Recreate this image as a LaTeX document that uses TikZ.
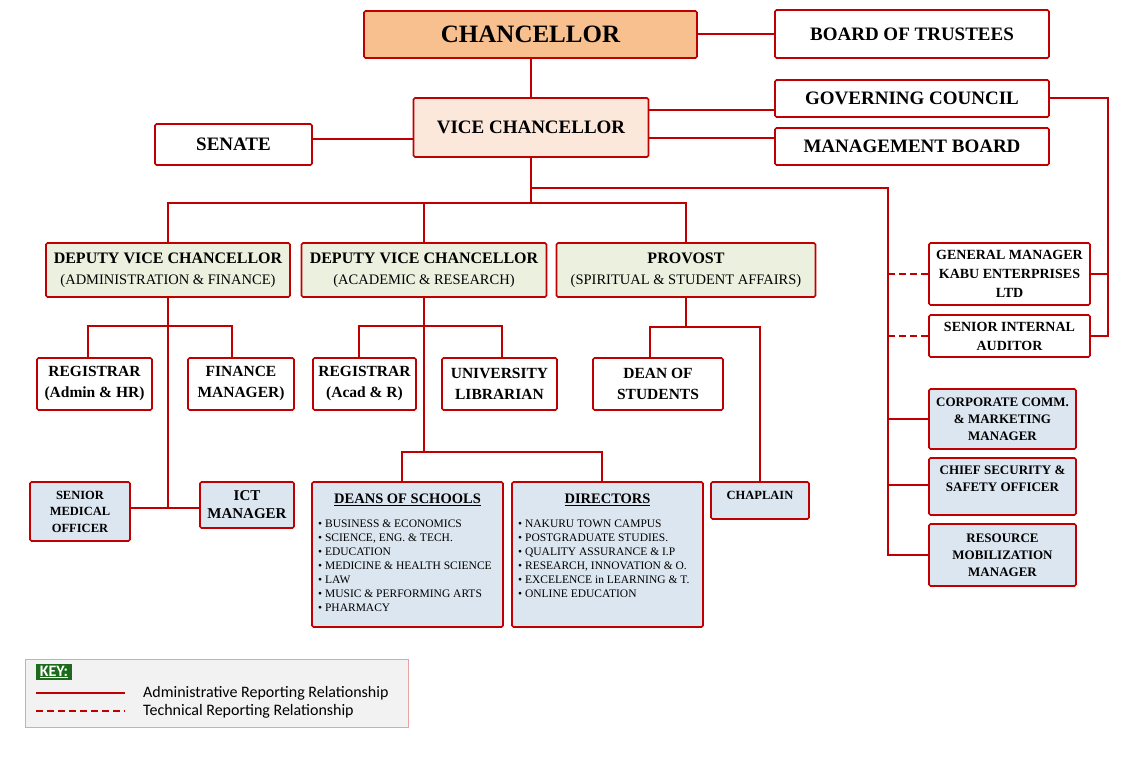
\documentclass[tikz,border=0pt]{standalone}
\usepackage{fontspec}
\setmainfont{Liberation Serif}
\newfontfamily\keyfont{Carlito}
\usetikzlibrary{positioning}
\definecolor{orgred}{HTML}{C00000}
\definecolor{chanfill}{HTML}{F8C08F}
\definecolor{vcfill}{HTML}{FCE8DA}
\definecolor{dvcfill}{HTML}{EBF1DE}
\definecolor{unitfill}{HTML}{DCE6F1}
\definecolor{keyfill}{HTML}{F2F2F2}
\definecolor{keyline}{HTML}{E6A3A3}
\definecolor{keygreen}{HTML}{1B6B1B}
\newcommand{\fsz}[2]{\fontsize{#1}{#2}\selectfont}
\tikzset{
  orgbox/.style={draw=orgred, line width=1.6pt, rounded corners=1.5pt, align=center, inner sep=1pt, fill=white},
  unitbox/.style={orgbox, fill=unitfill},
  link/.style={draw=orgred, line width=2pt},
  techlink/.style={link, dash pattern=on 7pt off 4pt},
}
\begin{document}
\begin{tikzpicture}[x=1pt,y=-1pt]
\useasboundingbox (0,0) rectangle (1140,778);

% top level
\node[orgbox, fill=chanfill, minimum width=333, minimum height=47, font=\bfseries\fsz{25}{30}] (chan) at (530.5,34.5) {CHANCELLOR};
\node[orgbox, minimum width=274, minimum height=48, font=\bfseries\fsz{19}{22}] (bot) at (912,34) {BOARD OF TRUSTEES};
\node[orgbox, minimum width=274, minimum height=37, font=\bfseries\fsz{19}{22}] (gc) at (912,98.5) {GOVERNING COUNCIL};
\node[orgbox, minimum width=274, minimum height=37, font=\bfseries\fsz{19}{22}] (mb) at (912,146.5) {MANAGEMENT BOARD};
\node[orgbox, fill=vcfill, minimum width=235, minimum height=59, font=\bfseries\fsz{19}{22}] (vc) at (531,127.5) {VICE CHANCELLOR};
\node[orgbox, minimum width=157, minimum height=41, font=\bfseries\fsz{19}{22}] (senate) at (233.5,144.5) {SENATE};

% deputies
\node[orgbox, fill=dvcfill, minimum width=244, minimum height=54, font=\fsz{14.5}{21}] (dvca) at (168,270) {{\bfseries\fsz{16}{21}DEPUTY VICE CHANCELLOR}\\(ADMINISTRATION \& FINANCE)};
\node[orgbox, fill=dvcfill, minimum width=245, minimum height=54, font=\fsz{14.5}{21}] (dvcb) at (424,270) {{\bfseries\fsz{16}{21}DEPUTY VICE CHANCELLOR}\\(ACADEMIC \& RESEARCH)};
\node[orgbox, fill=dvcfill, minimum width=259, minimum height=54, font=\fsz{14.5}{21}] (prov) at (686,270) {{\bfseries\fsz{16}{21}PROVOST}\\(SPIRITUAL \& STUDENT AFFAIRS)};

% second row
\node[orgbox, minimum width=115, minimum height=52, font=\bfseries\fsz{15.5}{21}] (rega) at (94.5,384) {REGISTRAR\\(Admin \& HR)};
\node[orgbox, minimum width=106, minimum height=52, font=\bfseries\fsz{15.5}{21}] (fin) at (241,384) {FINANCE\\MANAGER)};
\node[orgbox, minimum width=103, minimum height=52, font=\bfseries\fsz{15.5}{21}] (regb) at (364.5,384) {REGISTRAR\\(Acad \& R)};
\node[orgbox, minimum width=115, minimum height=52, font=\bfseries\fsz{15.5}{21}] (lib) at (499.5,384) {UNIVERSITY\\LIBRARIAN};
\node[orgbox, minimum width=130, minimum height=52, font=\bfseries\fsz{15.5}{21}] (dos) at (658,384) {DEAN OF\\STUDENTS};

% third row
\node[unitbox, minimum width=100, minimum height=59, font=\bfseries\fsz{12.5}{16.5}] (smo) at (80,511.5) {SENIOR\\MEDICAL\\OFFICER};
\node[unitbox, minimum width=94, minimum height=46, font=\bfseries\fsz{15}{18}] (ict) at (247,505) {ICT\\MANAGER};
\node[unitbox, minimum width=191, minimum height=145] (deans) at (407.5,554.5) {};
\node[font=\bfseries\fsz{14.5}{17}] (deanst) at (407.5,500) {\underline{DEANS OF SCHOOLS}};
\node[anchor=north west, align=left, inner sep=0pt, font=\fsz{11.5}{14}] (deansl) at (318,520) {\textbullet~BUSINESS \& ECONOMICS\\\textbullet~SCIENCE, ENG. \& TECH.\\\textbullet~EDUCATION\\\textbullet~MEDICINE \& HEALTH SCIENCE\\\textbullet~LAW\\\textbullet~MUSIC \& PERFORMING ARTS\\\textbullet~PHARMACY};
\node[unitbox, minimum width=191, minimum height=145] (dirs) at (607.5,554.5) {};
\node[font=\bfseries\fsz{14.5}{17}] (dirst) at (607.5,500) {\underline{DIRECTORS}};
\node[anchor=north west, align=left, inner sep=0pt, font=\fsz{11.5}{14}] (dirsl) at (518,520) {\textbullet~NAKURU TOWN CAMPUS\\\textbullet~POSTGRADUATE STUDIES.\\\textbullet~QUALITY ASSURANCE \& I.P\\\textbullet~RESEARCH, INNOVATION \& O.\\\textbullet~EXCELENCE in LEARNING \& T.\\\textbullet~ONLINE EDUCATION};
\node[unitbox, minimum width=98, minimum height=37, text depth=11pt, font=\bfseries\fsz{12.5}{15}] (chap) at (760,500.5) {CHAPLAIN};

% right column
\node[orgbox, minimum width=161, minimum height=62, font=\bfseries\fsz{14}{19}] (gm) at (1009.5,274) {GENERAL MANAGER\\KABU ENTERPRISES\\LTD};
\node[orgbox, minimum width=161, minimum height=42, font=\bfseries\fsz{14}{19}] (sia) at (1009.5,336) {SENIOR INTERNAL\\AUDITOR};
\node[unitbox, minimum width=147, minimum height=60, font=\bfseries\fsz{13}{17}] (ccm) at (1002.5,419) {CORPORATE COMM.\\\& MARKETING\\MANAGER};
\node[unitbox, minimum width=147, minimum height=57, text depth=16pt, font=\bfseries\fsz{13}{17}] (cso) at (1002.5,486.5) {CHIEF SECURITY \&\\SAFETY OFFICER};
\node[unitbox, minimum width=147, minimum height=62, font=\bfseries\fsz{13}{17}] (rmm) at (1002.5,555) {RESOURCE\\MOBILIZATION\\MANAGER};

% bus points
\coordinate (busvc) at (531,203);
\coordinate (spine) at (888,188);
\coordinate (busa) at (168,326);
\coordinate (busab) at (168,508);
\coordinate (busb) at (424,326);
\coordinate (busbb) at (424,452);
\coordinate (busp) at (686,327);
\coordinate (gcbus) at (1108,101);

% connectors
\draw[link] (chan.east) -- (chan.east -| bot.west);
\draw[link] (chan.south -| vc.north) -- (vc.north);
\draw[link] (vc.east |- 0,110) -- (gc.west |- 0,110);
\draw[link] (vc.east |- 0,138) -- (mb.west |- 0,138);
\draw[link] (senate.east |- 0,139) -- (vc.west |- 0,139);
\draw[link] (vc.south) -- (busvc);
\draw[link] (dvca.north) |- (busvc) -| (prov.north);
\draw[link] (dvcb.north) -- (dvcb.north |- busvc);
\draw[link] (vc.south |- spine) -- (spine) -- (spine |- rmm.west) -- (rmm.west);
\draw[link] (spine |- ccm.west) -- (ccm.west);
\draw[link] (spine |- 0,485) -- (cso.west |- 0,485);
\draw[techlink] (spine |- gm.west) -- (gm.west);
\draw[techlink] (spine |- sia.west) -- (sia.west);
\draw[link] (gc.east) -| (gcbus |- sia.east) -- (sia.east);
\draw[link] (gm.east) -- (gm.east -| gcbus);

\draw[link] (dvca.south) -- (busab);
\draw[link] ([xshift=-6.5pt]rega.north) |- (busa) -| ([xshift=-9pt]fin.north);
\draw[link] (smo.east |- busab) -- (ict.west |- busab);

\draw[link] (dvcb.south) -- (busbb);
\draw[link] ([xshift=-5.5pt]regb.north) |- (busb) -| ([xshift=2.5pt]lib.north);
\draw[link] ([xshift=-5.5pt]deans.north) |- (busbb) -| ([xshift=-5.5pt]dirs.north);

\draw[link] (prov.south) -- (busp);
\draw[link] ([xshift=-8pt]dos.north) |- (busp) -| (chap.north);

% key
\node[draw=keyline, fill=keyfill, line width=0.8pt, minimum width=383, minimum height=68] (key) at (216.5,693) {};
\node[fill=keygreen, text=white, inner xsep=4pt, inner ysep=2pt, font=\keyfont\bfseries\fsz{16}{18}] (keyt) at (54,672) {\underline{KEY:}};
\coordinate (ka) at (36,693);
\coordinate (kb) at (125,693);
\coordinate (kc) at (36,711);
\coordinate (kd) at (125,711);
\draw[link] (ka) -- (kb);
\draw[techlink] (kc) -- (kd);
\node[anchor=west, inner sep=0pt, font=\keyfont\fsz{16}{18}] (keya) at (143,693) {Administrative Reporting Relationship};
\node[anchor=west, inner sep=0pt, font=\keyfont\fsz{16}{18}] (keyb) at (143,711) {Technical Reporting Relationship};
\end{tikzpicture}
\end{document}
